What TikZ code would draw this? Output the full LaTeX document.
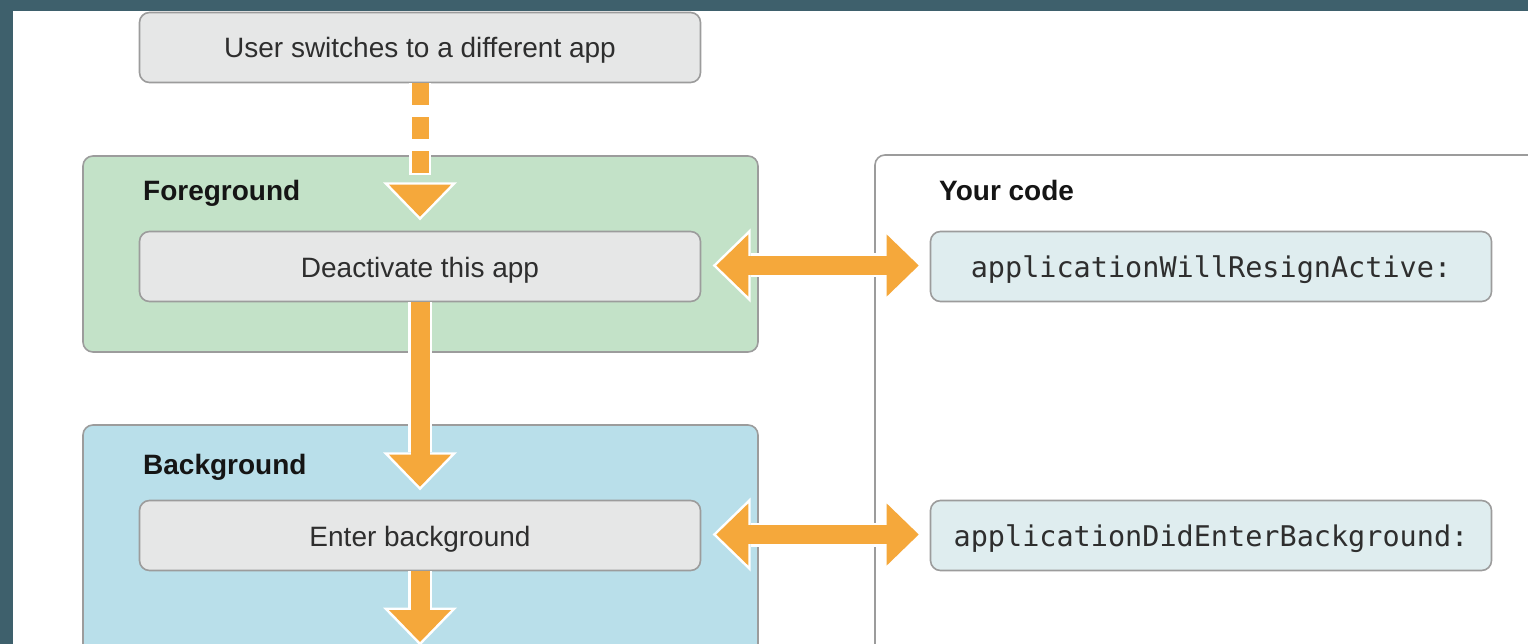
\documentclass[tikz,border=0pt]{standalone}
\usepackage{fontspec}
\setmainfont{Liberation Sans}
\newfontfamily\codefont{DejaVu Sans Mono}
\usetikzlibrary{arrows.meta,calc}

\definecolor{framecol}{HTML}{3E606C}
\definecolor{boxgray}{HTML}{E6E7E7}
\definecolor{edgegray}{HTML}{9C9C9C}
\definecolor{fggreen}{HTML}{C3E2C8}
\definecolor{bgblue}{HTML}{B9DFEA}
\definecolor{codefill}{HTML}{DFEDEF}
\definecolor{arroworange}{HTML}{F5A83B}
\definecolor{textgray}{HTML}{2E2E2E}
\definecolor{titleblack}{HTML}{151515}

\tikzset{
  panel/.style={draw=edgegray, line width=1.6pt, rounded corners=10pt, inner sep=0pt},
  stepbox/.style={draw=edgegray, line width=1.6pt, fill=boxgray, rounded corners=10pt,
    minimum width=561pt, minimum height=70pt, inner sep=0pt, text=textgray,
    text height=21pt, text depth=0pt,
    font=\fontsize{28}{34}\selectfont},
  codebox/.style={stepbox, fill=codefill, font=\codefont\fontsize{28.5}{34}\selectfont},
  paneltitle/.style={anchor=base west, inner sep=0pt, text=titleblack,
    font=\bfseries\fontsize{28}{34}\selectfont},
  % orange flow arrow with a thin white halo drawn underneath
  flowarrow/.style={draw=arroworange, line width=19pt,
    -{Triangle[width=62pt,length=32pt,line width=0pt]},
    preaction={draw=white, line width=24pt, shorten >=-3.6pt,
      -{Triangle[width=74pt,length=38pt,line width=0pt]}}},
  flowboth/.style={draw=arroworange, line width=19pt,
    {Triangle[width=62pt,length=32pt,line width=0pt]}-{Triangle[width=62pt,length=32pt,line width=0pt]},
    preaction={draw=white, line width=24pt, shorten >=-3.6pt, shorten <=-3.6pt,
      {Triangle[width=74pt,length=38pt,line width=0pt]}-{Triangle[width=74pt,length=38pt,line width=0pt]}}},
  flowdashed/.style={draw=arroworange, line width=17pt, dash pattern=on 22pt off 12pt,
    -{Triangle[width=62pt,length=32pt,line width=0pt]},
    preaction={draw=white, line width=22pt, dash pattern=on 26pt off 8pt, dash phase=2pt,
      shorten >=-3.6pt, -{Triangle[width=74pt,length=38pt,line width=0pt]}}},
}

\begin{document}
\begin{tikzpicture}[x=1pt,y=-1pt]
  \useasboundingbox (0,0) rectangle (1528,644);
  \clip (0,0) rectangle (1528,644);

  % frame and canvas
  \fill[framecol] (0,0) rectangle (1528,644);
  \fill[white] (13,11) rectangle (1528,644);

  % state panels
  \node[panel, fill=fggreen, minimum width=675pt, minimum height=196pt] (fgpanel) at (420.5,254) {};
  \node[panel, fill=bgblue, minimum width=675pt, minimum height=240pt] (bgpanel) at (420.5,545) {};
  \node[panel, fill=white, minimum width=680pt, minimum height=510pt] (codepanel) at (1215,410) {};

  \node[paneltitle] (fgtitle) at (143,201) {Foreground};
  \node[paneltitle] (bgtitle) at (143,474) {Background};
  \node[paneltitle] (codetitle) at (939,201) {Your code};

  % steps
  \node[stepbox] (switch) at (420,47.5) {User switches to a different app};
  \node[stepbox] (deact) at (420,266.5) {Deactivate this app};
  \node[stepbox] (enter) at (420,535.5) {Enter background};

  % delegate callbacks
  \node[codebox] (resign) at (1211,266.5) {applicationWillResignActive:};
  \node[codebox] (didenter) at (1211,535.5) {applicationDidEnterBackground:};

  % flow
  \coordinate (exit) at (420,642);
  \draw[flowdashed] (switch.south) -- ($(deact.north)+(0,-14)$);
  \draw[flowarrow] (deact.south) -- ($(enter.north)+(0,-13)$);
  \draw[flowarrow] (enter.south) -- (exit);
  \draw[flowboth] ($(deact.east)+(15,-1)$) -- ($(resign.west)+(-11,-1)$);
  \draw[flowboth] ($(enter.east)+(15,-1)$) -- ($(didenter.west)+(-11,-1)$);
\end{tikzpicture}
\end{document}
